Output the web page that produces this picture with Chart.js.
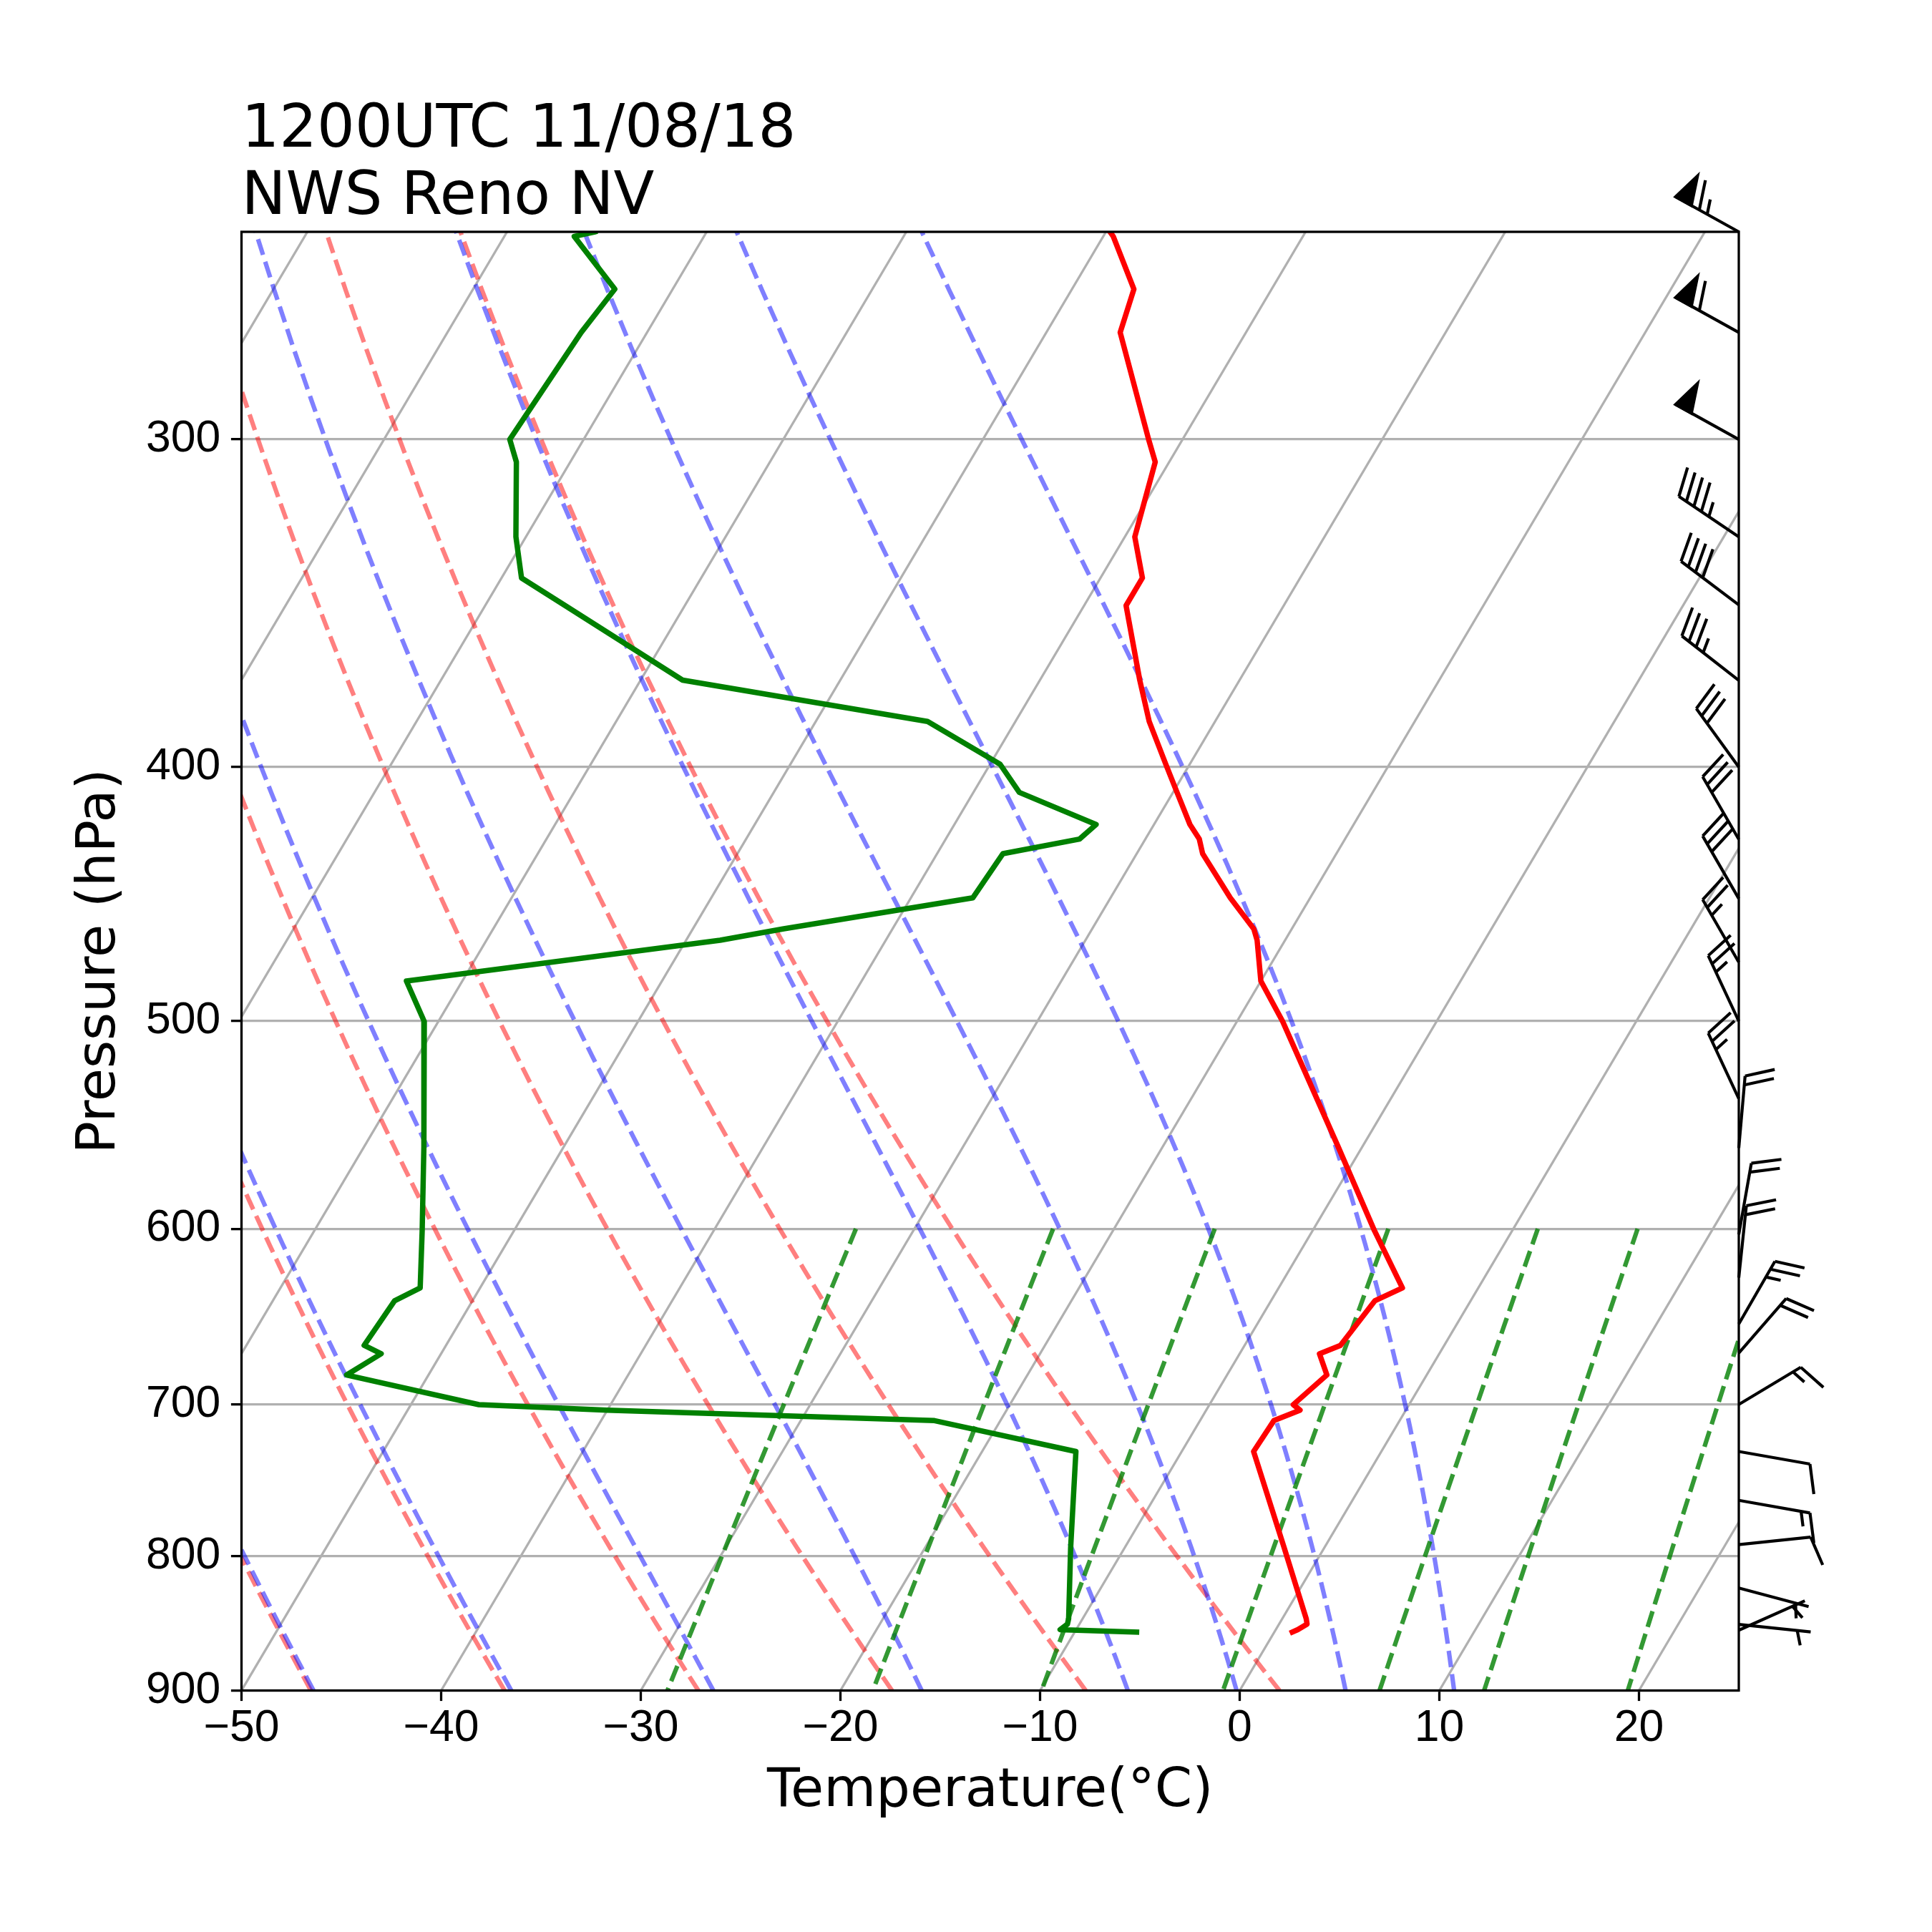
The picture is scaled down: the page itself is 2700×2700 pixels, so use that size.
<!DOCTYPE html>
<html>
<head>
<meta charset="utf-8">
<script src="https://cdn.jsdelivr.net/npm/chart.js@4.4.1/dist/chart.umd.min.js"></script>
<style>
  html, body { margin: 0; padding: 0; background: #fff; }
  canvas { display: block; }
</style>
</head>
<body>
<canvas id="skewt" width="2700" height="2700" style="width:2700px;height:2700px"></canvas>
<script>
// sounding (hPa, degC)
const pressure = [250, 251, 262.9, 273.1, 300, 306, 326.8, 338.8, 347.1, 370.6, 384.3, 399, 409, 420.7, 426.1, 431.6, 448.7, 461.1, 465.7, 482.7, 500.2, 558.4, 601, 632, 639.2, 664.7, 669.6, 682.2, 700.2, 703.6, 710.1, 729.6, 794.1, 845, 849, 853.2, 855];
const temperature = [-49.8, -49.5, -46.9, -46.3, -41.7, -40.7, -39.5, -37.9, -37.9, -35.0, -33.3, -31.2, -29.8, -28.2, -27.3, -26.7, -24.0, -21.9, -21.4, -20.0, -17.7, -11.2, -6.9, -3.8, -4.8, -5.2, -6.0, -5.0, -5.8, -5.3, -6.3, -6.4, -2.0, 1.2, 1.4, 1.1, 0.9];
const dewpoint = [-75.6, -76.5, -72.9, -73.3, -73.7, -72.7, -70.5, -69.0, -66.0, -57.9, -44.4, -39.5, -37.7, -32.9, -33.3, -36.7, -36.9, -45.5, -48.3, -62.8, -60.7, -57.0, -54.6, -53.0, -53.9, -54.1, -53.0, -54.1, -46.6, -40.0, -23.3, -15.3, -12.7, -10.7, -10.6, -10.8, -6.9];

// winds (hPa, knots, degrees)
const windPressure = [250, 273.1, 300, 326.8, 346.9, 370.7, 400, 426.2, 449, 474.8, 500, 535.2, 558.9, 603, 626.3, 652.3, 669.2, 700.1, 729.6, 761.6, 791.8, 822.5, 849.2, 853.6];
const windSpeed = [65, 60, 50, 45, 40, 35, 30, 30, 30, 25, 25, 25, 20, 20, 20, 25, 20, 15, 10, 15, 10, 5, 5, 5];
const windDirection = [299, 299, 299, 304, 307, 308, 324, 330, 330, 330, 335, 335, 5, 10, 6, 30, 41, 59, 100, 100, 84, 105, 96, 66];

const tempTicks = [-50, -40, -30, -20, -10, 0, 10, 20];
const pressureTicks = [300, 400, 500, 600, 700, 800, 900];

// reference lines
const isotherms = [-90, -80, -70, -60, -50, -40, -30, -20, -10, 0, 10, 20];
const dryAdiabatT0 = [-49.6, -39.6, -29.6, -19.6, -9.6, 0.4, 10.4];
const moistAdiabatT0 = [-49.6, -39.6, -29.6, -19.6, -9.6, 0, 5, 10, 15];
const mixingRatios = [0.0004, 0.001, 0.002, 0.004, 0.007, 0.01, 0.016, 0.024, 0.032];

const titleLines = ['1200UTC 11/08/18', 'NWS Reno NV'];

const T_MIN = -50, T_MAX = 25, P_BOT = 900, P_TOP = 250;
const SKEW = Math.tan(30 * Math.PI / 180) * (T_MAX - T_MIN);

// skewed x position for temperature t at pressure p
function skewX(t, p) {
  return t + SKEW * Math.log(P_BOT / p) / Math.log(P_BOT / P_TOP);
}

// thermo constants (same as metpy)
const Rd = 287.04749, Cpd = 1004.6662, Lv = 2.50084e6, eps = 0.6219569;
const kappa = Rd / Cpd;

function satVap(tK) {
  return 6.112 * Math.exp(17.67 * (tK - 273.15) / (tK - 29.65));
}
function moistDT(tK, p) {
  const es = satVap(tK);
  const rs = eps * es / (p - es);
  return (Rd * tK + Lv * rs) / (Cpd + Lv * Lv * rs * eps / (Rd * tK * tK)) / p;
}

const adiabatP = [];
for (let i = 0; i < 50; i++) adiabatP.push(P_BOT - i * (P_BOT - P_TOP) / 49);
const mixingP = [];
for (let i = 0; i < 50; i++) mixingP.push(600 + i * (P_BOT - 600) / 49);

function moistLine(t0) {
  let t = t0 + 273.15, p = 1000;
  const out = [];
  for (const target of adiabatP) {
    const n = 20, h = (target - p) / n;
    for (let k = 0; k < n; k++) {
      const k1 = moistDT(t, p);
      const k2 = moistDT(t + h * k1 / 2, p + h / 2);
      const k3 = moistDT(t + h * k2 / 2, p + h / 2);
      const k4 = moistDT(t + h * k3, p + h);
      t += h * (k1 + 2 * k2 + 2 * k3 + k4) / 6;
      p += h;
    }
    out.push({ x: skewX(t - 273.15, target), y: target });
  }
  return out;
}

function dryLine(t0) {
  return adiabatP.map(p => ({ x: skewX((t0 + 273.15) * Math.pow(p / 1000, kappa) - 273.15, p), y: p }));
}

function mixingLine(w) {
  return mixingP.map(p => {
    const e = p * w / (eps + w);
    const v = Math.log(e / 6.112);
    return { x: skewX(243.5 * v / (17.67 - v), p), y: p };
  });
}

const DASH = [23, 10];
const thin = { pointRadius: 0, tension: 0, clip: 0, fill: false };

const datasets = [];
datasets.push({ ...thin, data: pressure.map((p, i) => ({ x: skewX(temperature[i], p), y: p })),
  borderColor: '#ff0000', borderWidth: 7.5, borderJoinStyle: 'round', borderCapStyle: 'square' });
datasets.push({ ...thin, data: pressure.map((p, i) => ({ x: skewX(dewpoint[i], p), y: p })),
  borderColor: '#008000', borderWidth: 7.5, borderJoinStyle: 'round', borderCapStyle: 'square' });
mixingRatios.forEach(w => datasets.push({ ...thin, data: mixingLine(w),
  borderColor: 'rgba(0,128,0,0.8)', borderWidth: 6.25, borderDash: DASH }));
moistAdiabatT0.forEach(t => datasets.push({ ...thin, data: moistLine(t),
  borderColor: 'rgba(0,0,255,0.5)', borderWidth: 6.25, borderDash: DASH }));
dryAdiabatT0.forEach(t => datasets.push({ ...thin, data: dryLine(t),
  borderColor: 'rgba(255,0,0,0.5)', borderWidth: 6.25, borderDash: DASH }));
isotherms.forEach(t => datasets.push({ ...thin,
  data: [{ x: skewX(t, P_BOT), y: P_BOT }, { x: skewX(t, P_TOP), y: P_TOP }],
  borderColor: '#b0b0b0', borderWidth: 3.3 }));

// axes box on top of lines
const framePlugin = {
  id: 'frame',
  afterDatasetsDraw(chart) {
    const { ctx, chartArea: a } = chart;
    ctx.save();
    ctx.strokeStyle = '#000';
    ctx.lineWidth = 3.3;
    ctx.strokeRect(a.left, a.top, a.right - a.left, a.bottom - a.top);
    ctx.restore();
  }
};

function drawBarb(ctx, x0, y0, speed, dir, L) {
  const d = dir * Math.PI / 180;
  const s = [Math.sin(d), -Math.cos(d)];
  const n = [Math.cos(d), Math.sin(d)];
  const pt = (a, b) => [x0 + a * s[0] + b * n[0], y0 + a * s[1] + b * n[1]];
  let spd = Math.round(speed / 5) * 5;
  const nFlags = Math.floor(spd / 50); spd -= nFlags * 50;
  const nFull = Math.floor(spd / 10); spd -= nFull * 10;
  const half = spd >= 5;
  const height = 0.4 * L, width = 0.25 * L, spacing = 0.125 * L;

  ctx.beginPath();
  ctx.moveTo(...pt(0, 0));
  ctx.lineTo(...pt(L, 0));
  ctx.stroke();
  let offset = L;
  for (let i = 0; i < nFlags; i++) {
    if (offset !== L) offset += spacing / 2;
    ctx.beginPath();
    ctx.moveTo(...pt(offset, 0));
    ctx.lineTo(...pt(offset - width / 2, height));
    ctx.lineTo(...pt(offset - width, 0));
    ctx.closePath();
    ctx.fill();
    ctx.stroke();
    offset -= width + spacing;
  }
  for (let i = 0; i < nFull; i++) {
    ctx.beginPath();
    ctx.moveTo(...pt(offset, 0));
    ctx.lineTo(...pt(offset + width / 2, height));
    ctx.stroke();
    offset -= spacing;
  }
  if (half) {
    if (offset === L) offset -= 1.5 * spacing;
    ctx.beginPath();
    ctx.moveTo(...pt(offset, 0));
    ctx.lineTo(...pt(offset + width / 4, height / 2));
    ctx.stroke();
  }
}

const barbPlugin = {
  id: 'barbs',
  afterDraw(chart) {
    const { ctx, chartArea, scales } = chart;
    ctx.save();
    ctx.strokeStyle = '#000';
    ctx.fillStyle = '#000';
    ctx.lineWidth = 4.2;
    ctx.lineJoin = 'miter';
    windPressure.forEach((p, i) => {
      drawBarb(ctx, chartArea.right, scales.y.getPixelForValue(p), windSpeed[i], windDirection[i], 101);
    });
    ctx.restore();
  }
};

const titlePlugin = {
  id: 'skewTitle',
  afterDraw(chart) {
    const ctx = chart.ctx;
    ctx.save();
    ctx.font = '83px "DejaVu Sans"';
    ctx.fillStyle = '#000';
    ctx.textAlign = 'left';
    ctx.textBaseline = 'alphabetic';
    ctx.fillText(titleLines[0], chart.chartArea.left, 205);
    ctx.fillText(titleLines[1], chart.chartArea.left, 298.5);
    ctx.restore();
  }
};

const tickFont = { family: 'Liberation Sans', size: 62.5, lineHeight: 1 };
const labelFont = { family: 'DejaVu Sans', size: 75 };
const minus = v => (v < 0 ? '\u2212' + Math.abs(v) : String(v));

const chart = new Chart(document.getElementById('skewt'), {
  type: 'line',
  data: { datasets },
  options: {
    responsive: false,
    devicePixelRatio: 1,
    animation: false,
    events: [],
    layout: { padding: { top: 324, right: 270, left: 0, bottom: 0 } },
    plugins: { legend: { display: false }, tooltip: { enabled: false } },
    scales: {
      x: {
        type: 'linear',
        min: T_MIN,
        max: T_MAX,
        afterBuildTicks: s => { s.ticks = tempTicks.map(v => ({ value: v })); },
        afterFit: s => { s.height = 337.5; },
        grid: { drawOnChartArea: false, drawTicks: true, tickLength: 14.6, tickWidth: 3.3, tickColor: '#000' },
        border: { display: false },
        ticks: { font: tickFont, color: '#000', padding: 7.6, maxRotation: 0, autoSkip: false, callback: minus },
        title: { display: true, text: 'Temperature(°C)', font: labelFont, color: '#000', padding: { top: 0, bottom: 150 } }
      },
      y: {
        type: 'logarithmic',
        min: P_TOP,
        max: P_BOT,
        reverse: true,
        afterBuildTicks: s => { s.ticks = pressureTicks.map(v => ({ value: v })); },
        afterFit: s => { s.width = 337.5; },
        grid: { color: '#b0b0b0', lineWidth: 3.3, drawTicks: true, tickLength: 14.6, tickWidth: 3.3, tickColor: '#000' },
        border: { display: false },
        ticks: { font: tickFont, color: '#000', padding: 14.6, autoSkip: false, callback: v => String(v) },
        title: { display: true, text: 'Pressure (hPa)', font: labelFont, color: '#000', padding: { top: 96, bottom: 0 } }
      }
    }
  },
  plugins: [framePlugin, barbPlugin, titlePlugin]
});
</script>
</body>
</html>
